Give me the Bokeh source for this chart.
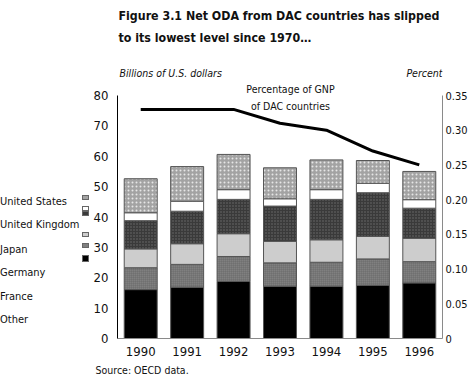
from bokeh.plotting import figure
from bokeh.layouts import row
from bokeh.models import (Range1d, LinearAxis, Label, FixedTicker, Title, Div,
                          CustomJSTickFormatter)
from bokeh.embed import file_html
from bokeh.resources import INLINE

FONT = "DejaVu Sans Condensed"

years = ["1990", "1991", "1992", "1993", "1994", "1995", "1996"]
other = [16.1, 16.9, 18.8, 17.2, 17.2, 17.5, 18.3]
france = [7.2, 7.5, 8.2, 7.7, 7.9, 8.7, 7.0]
germany = [6.2, 6.8, 7.5, 7.1, 7.4, 7.4, 7.7]
japan = [9.3, 10.7, 11.3, 11.6, 13.3, 14.4, 9.9]
uk = [2.6, 3.3, 3.2, 2.4, 3.2, 3.1, 2.8]
us = [11.2, 11.4, 11.6, 10.2, 9.8, 7.5, 9.3]
pct_gnp = [0.33, 0.33, 0.33, 0.31, 0.30, 0.27, 0.25]

series_names = ["Other", "France", "Germany", "Japan", "United Kingdom", "United States"]
series_vals = [other, france, germany, japan, uk, us]
legend_order = ["United States", "United Kingdom", "Japan", "Germany", "France", "Other"]
usd_ticks = [0, 10, 20, 30, 40, 50, 60, 70, 80]
pct_ticks = [0, 0.05, 0.1, 0.15, 0.2, 0.25, 0.3, 0.35]

styles = {
    "Other": dict(fill_color="#000000"),
    "France": dict(fill_color="#808080", hatch_pattern="cross", hatch_color="#5a5a5a",
                   hatch_scale=2, hatch_weight=0.5),
    "Germany": dict(fill_color="#cdcdcd"),
    "Japan": dict(fill_color="#3a3a3a", hatch_pattern="dot", hatch_color="#6e6e6e",
                  hatch_scale=3, hatch_weight=1),
    "United Kingdom": dict(fill_color="#ffffff"),
    "United States": dict(fill_color="#a3a3a3", hatch_pattern="dot", hatch_color="#e6e6e6",
                          hatch_scale=4, hatch_weight=1),
}

TOTAL_W, H = 470, 387
DW = 90                               # width of the legend column on the left
W = TOTAL_W - DW                      # figure width
FL, FR, FB = 117 - DW, 444 - DW, 338  # frame left / right / bottom inside the figure
TOP80 = 95                            # canvas row of the value 80 (0.35 %)
usd_max, pct_max = 80, 0.35
ext = FB / (FB - TOP80)               # frame reaches the canvas top, axes stop at 80 / 0.35

p = figure(x_range=years, y_range=Range1d(0, usd_max * ext), width=W, height=H,
           output_backend="svg", toolbar_location=None,
           min_border_left=FL, min_border_right=W - FR, min_border_top=0,
           min_border_bottom=H - FB)
p.extra_y_ranges = {"pct": Range1d(0, pct_max * ext)}
p.border_fill_color = "white"
p.background_fill_color = "white"
p.outline_line_color = None
p.xgrid.grid_line_color = None
p.ygrid.grid_line_color = None

bottoms = [0.0] * len(years)
for n, v in zip(series_names, series_vals):
    tops = [b + x for b, x in zip(bottoms, v)]
    p.vbar(x=years, bottom=bottoms, top=tops, width=0.71,
           line_color="#555555", line_width=1, **styles[n])
    bottoms = tops

p.line(x=years, y=pct_gnp, y_range_name="pct", line_color="black", line_width=3)

# x axis
xa = p.xaxis[0]
xa.axis_line_color = "#8a8a8a"
xa.major_tick_line_color = None
xa.major_tick_out = 0
xa.major_tick_in = 0
xa.major_label_text_font = FONT
xa.major_label_text_font_size = "13px"
xa.major_label_text_color = "#111111"
xa.major_label_standoff = 8

# left axis
ya = p.yaxis[0]
ya.ticker = FixedTicker(ticks=usd_ticks)
ya.bounds = (0, usd_max)
ya.axis_line_color = "black"
ya.major_tick_line_color = None
ya.minor_tick_line_color = None
ya.major_tick_out = 0
ya.major_tick_in = 0
ya.minor_tick_out = 0
ya.major_label_text_font = FONT
ya.major_label_text_font_size = "13px"
ya.major_label_text_color = "#111111"
ya.major_label_standoff = 9

# right axis
ra = LinearAxis(y_range_name="pct", ticker=FixedTicker(ticks=pct_ticks), bounds=(0, pct_max))
ra.formatter = CustomJSTickFormatter(code="return tick == 0 ? '0' : tick.toFixed(2);")
ra.axis_line_color = "#8a8a8a"
ra.major_tick_line_color = None
ra.minor_tick_line_color = None
ra.major_tick_out = 0
ra.major_tick_in = 0
ra.minor_tick_out = 0
ra.major_label_text_font = FONT
ra.major_label_text_font_size = "11px"
ra.major_label_text_color = "#111111"
ra.major_label_standoff = 3
p.add_layout(ra, "right")

# source note below
p.add_layout(Title(text="Source:  OECD data.", align="left", offset=(95 - DW) - FL,
                   text_font=FONT, text_font_size="10.5px", text_font_style="normal",
                   text_color="#111111", standoff=6), "below")


def lab(text, x, y, size="13px", style="normal", align="left", baseline="middle"):
    # x, y are page pixels (top-left origin); all of these lie inside the frame
    p.add_layout(Label(x=x - DW, y=y, x_units="canvas", y_units="canvas", text=text,
                       text_font=FONT, text_font_size=size, text_font_style=style,
                       text_align=align, text_baseline=baseline, text_color="#111111"))


lab("Figure 3.1  Net ODA from DAC countries has slipped", 118, 15, size="12.3px", style="bold")
lab("to its lowest level since 1970…", 118, 37, size="12.3px", style="bold")
lab("Billions of U.S. dollars", 119, 72, size="10.5px", style="italic")
lab("Percent", 442, 72, size="10.5px", style="italic", align="right")
lab("Percentage of GNP", 290, 88, size="10.5px", align="center")
lab("of DAC countries", 290, 105, size="10.5px", align="center")

# legend column (labels and small swatches) at the left of the chart
leg_y = [202, 225, 250, 273, 297, 320]
sw = {"United States": (195, 200), "United Kingdom": (206, 211), "Japan": (211, 216),
      "Germany": (232, 237), "France": (243, 248), "Other": (255, 262)}
parts = ['<div style="position:relative;width:%dpx;height:%dpx;'
         'font-family:\'%s\',sans-serif;color:#111111;">' % (DW, H, FONT)]
for name, y in zip(legend_order, leg_y):
    parts.append('<span style="position:absolute;left:0px;top:%dpx;font-size:11px;'
                 'line-height:14px;white-space:nowrap;">%s</span>' % (y - 7, name))
for name in legend_order:
    t, b = sw[name]
    parts.append('<div style="position:absolute;left:82px;top:%dpx;width:7px;height:%dpx;'
                 'box-sizing:border-box;border:1px solid #666666;background:%s;"></div>'
                 % (t, b - t, styles[name]["fill_color"]))
parts.append("</div>")
legend_div = Div(text="".join(parts), width=DW, height=H, margin=0)

layout = row(legend_div, p)

open("out.html", "w").write(file_html(layout, INLINE))
